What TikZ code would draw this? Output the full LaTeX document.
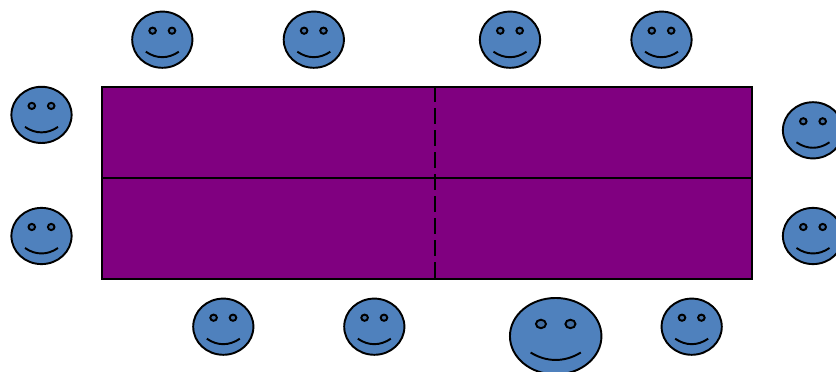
\documentclass[tikz,border=0pt]{standalone}
\usepackage{xcolor}
\usepackage{tikz}
\usetikzlibrary{positioning,calc}
\definecolor{tablepurple}{HTML}{800080}
\definecolor{faceblue}{HTML}{4F81BD}

\begin{document}
\begin{tikzpicture}[x=0.02cm, y=-0.02cm, line width=1.1pt,
  board/.style={fill=tablepurple, draw, inner sep=0pt, minimum width=13cm, minimum height=3.84cm},
  smiley/.pic={
    \draw[fill=faceblue] (0,0) circle[x radius=30.1, y radius=28.1];
    \draw[fill=faceblue!85!black] (-9.7,-9) circle[x radius=3.3, y radius=3.1];
    \draw[fill=faceblue!85!black] (9.7,-9) circle[x radius=3.3, y radius=3.1];
    \draw (-16.5,12) .. controls (-6,19.3) and (6,19.3) .. (16.5,12);
  }]
\useasboundingbox (0,0) rectangle (836,372);
\clip (0,0) rectangle (836,372);
\node[board] (table) at (427,183) {};
% divider lines
\coordinate (midL) at (table.west |- 0,178);
\coordinate (midR) at (table.east |- 0,178);
\coordinate (splitT) at (435,0 |- table.north);
\coordinate (splitB) at (435,0 |- table.south);
\draw (midL) -- (midR);
\draw[line width=1.4pt, dash pattern=on 0.32cm off 0.12cm] (splitT) -- (splitB);
% top row
\pic (top1) at (162.3,39.7) {smiley};
\pic (top2) at (313.8,39.7) {smiley};
\pic (top3) at (510,39.7) {smiley};
\pic (top4) at (661.5,39.7) {smiley};
% left and right
\pic (left1) at (41.5,114.9) {smiley};
\pic (left2) at (41.5,236) {smiley};
\pic (right1) at (813,130.3) {smiley};
\pic (right2) at (813,236) {smiley};
% bottom row
\pic (bot1) at (223.3,326.7) {smiley};
\pic (bot2) at (374.3,326.7) {smiley};
\pic[xscale=1.52, yscale=1.36] (bot3) at (555.7,336.2) {smiley};
\pic (bot4) at (691.7,326.7) {smiley};
\end{tikzpicture}
\end{document}
